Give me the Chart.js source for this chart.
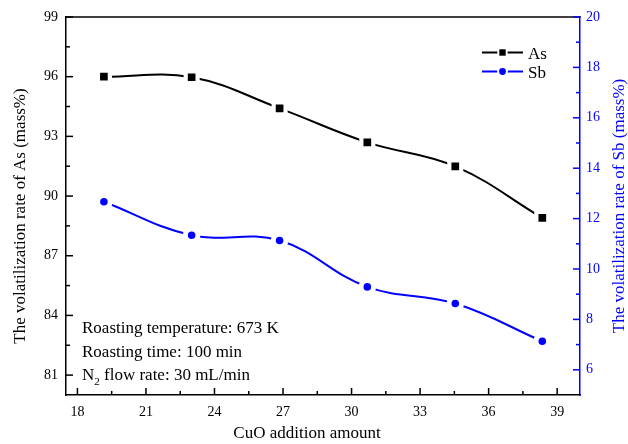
<!DOCTYPE html>
<html><head><meta charset="utf-8">
<script src="https://cdn.jsdelivr.net/npm/chart.js@4.4.0/dist/chart.umd.min.js"></script>
<style>html,body{margin:0;padding:0;background:#fff;}#wrap{width:628px;height:444px;}</style>
</head><body><div id="wrap"><canvas id="c" width="628" height="444"></canvas></div>
<script>
const cuoAmount = [19.16, 23.0, 26.85, 30.69, 34.54, 38.35];
const asRate = [96.0, 95.97, 94.41, 92.70, 91.49, 88.9];
const sbRate = [12.67, 11.34, 11.13, 9.29, 8.63, 7.13];
const xTicks = [18, 21, 24, 27, 30, 33, 36, 39];
const asTicks = [81, 84, 87, 90, 93, 96, 99];
const sbTicks = [6, 8, 10, 12, 14, 16, 18, 20];
const seriesNames = ['As', 'Sb'];
const xTitle = 'CuO addition amount';
const asTitle = 'The volatilization rate of As (mass%)';
const sbTitle = 'The volatilization rate of Sb (mass%)';
const noteLines = ['Roasting temperature: 673 K', 'Roasting time: 100 min'];
const noteN2 = ['N', '2', ' flow rate: 30 mL/min'];

const BLUE = '#0000ff';
const FONT = "'Liberation Serif', 'Times New Roman', serif";

function mids(arr) { const m = []; for (let i = 0; i < arr.length - 1; i++) m.push((arr[i] + arr[i + 1]) / 2); return m; }

function marker(ctx, style, x, y, half, ringW, color) {
  ctx.save();
  ctx.fillStyle = '#fff';
  ctx.beginPath();
  if (style === 'rect') ctx.rect(x - half - ringW, y - half - ringW, 2 * (half + ringW), 2 * (half + ringW));
  else ctx.arc(x, y, half + ringW, 0, Math.PI * 2);
  ctx.fill();
  ctx.fillStyle = color;
  ctx.beginPath();
  if (style === 'rect') ctx.rect(x - half, y - half, 2 * half, 2 * half);
  else ctx.arc(x, y, half, 0, Math.PI * 2);
  ctx.fill();
  ctx.restore();
}

const decor = {
  id: 'decor',
  afterDraw(chart) {
    const ctx = chart.ctx, a = chart.chartArea;
    const sx = chart.scales.x, sy = chart.scales.y, s2 = chart.scales.y2;
    ctx.save();
    ctx.lineWidth = 1.5;
    // top border
    ctx.strokeStyle = '#000';
    ctx.beginPath(); ctx.moveTo(a.left, a.top); ctx.lineTo(a.right + 0.75, a.top); ctx.stroke();
    // x ticks (inward)
    const tick = (x1, y1, x2, y2) => { ctx.beginPath(); ctx.moveTo(x1, y1); ctx.lineTo(x2, y2); ctx.stroke(); };
    xTicks.forEach(v => { const p = sx.getPixelForValue(v); tick(p, a.bottom, p, a.bottom - 7); });
    mids(xTicks).forEach(v => { const p = sx.getPixelForValue(v); tick(p, a.bottom, p, a.bottom - 4); });
    asTicks.forEach(v => { const p = sy.getPixelForValue(v); tick(a.left, p, a.left + 7, p); });
    mids(asTicks).forEach(v => { const p = sy.getPixelForValue(v); tick(a.left, p, a.left + 4, p); });
    ctx.strokeStyle = BLUE;
    sbTicks.forEach(v => { const p = s2.getPixelForValue(v); tick(a.right, p, a.right - 7, p); });
    mids(sbTicks).forEach(v => { const p = s2.getPixelForValue(v); tick(a.right, p, a.right - 4, p); });

    // axis titles
    ctx.font = '17px ' + FONT;
    ctx.textBaseline = 'middle';
    ctx.textAlign = 'center';
    ctx.fillStyle = '#000';
    ctx.fillText(xTitle, 307, 434);
    ctx.save(); ctx.translate(21, 216); ctx.rotate(-Math.PI / 2); ctx.fillText(asTitle, 0, 0); ctx.restore();
    ctx.fillStyle = BLUE;
    ctx.save(); ctx.translate(620, 206); ctx.rotate(-Math.PI / 2); ctx.fillText(sbTitle, 0, 0); ctx.restore();

    // annotation
    ctx.fillStyle = '#000';
    ctx.textAlign = 'left';
    ctx.textBaseline = 'alphabetic';
    ctx.fillText(noteLines[0], 82, 333);
    ctx.fillText(noteLines[1], 82, 356.5);
    let x = 82;
    ctx.fillText(noteN2[0], x, 380); x += ctx.measureText(noteN2[0]).width;
    ctx.font = '11px ' + FONT;
    ctx.fillText(noteN2[1], x, 385); x += ctx.measureText(noteN2[1]).width;
    ctx.font = '17px ' + FONT;
    ctx.fillText(noteN2[2], x, 380);

    // legend
    const items = [
      { name: seriesNames[0], color: '#000', style: 'rect', y: 52.5, half: 3.2 },
      { name: seriesNames[1], color: BLUE, style: 'circle', y: 71.5, half: 3.4 }
    ];
    items.forEach(it => {
      ctx.strokeStyle = it.color; ctx.lineWidth = 2;
      ctx.beginPath(); ctx.moveTo(482, it.y); ctx.lineTo(523, it.y); ctx.stroke();
      marker(ctx, it.style, 502.5, it.y, it.half, 2, it.color);
      ctx.fillStyle = '#000';
      ctx.font = '17px ' + FONT;
      ctx.fillText(it.name, 528, it.y + 6);
    });
    ctx.restore();
  }
};

const ticksFrom = arr => function (scale) { scale.ticks = arr.map(v => ({ value: v })); };

new Chart(document.getElementById('c'), {
  type: 'line',
  data: {
    datasets: [
      {
        label: seriesNames[0],
        data: cuoAmount.map((x, i) => ({ x, y: asRate[i] })),
        yAxisID: 'y',
        borderColor: '#000', backgroundColor: '#000', borderWidth: 2,
        tension: 0.4,
        pointStyle: 'rect', pointRadius: 8.4, pointBorderWidth: 4.2,
        pointBackgroundColor: '#000', pointBorderColor: '#fff'
      },
      {
        label: seriesNames[1],
        data: cuoAmount.map((x, i) => ({ x, y: sbRate[i] })),
        yAxisID: 'y2',
        borderColor: BLUE, backgroundColor: BLUE, borderWidth: 2,
        tension: 0.4,
        pointStyle: 'circle', pointRadius: 6.3, pointBorderWidth: 5,
        pointBackgroundColor: BLUE, pointBorderColor: '#fff'
      }
    ]
  },
  options: {
    responsive: false, animation: false, devicePixelRatio: 1, events: [],
    layout: { padding: { top: 17, left: 0, right: 0, bottom: 0 } },
    plugins: { legend: { display: false }, tooltip: { enabled: false } },
    scales: {
      x: {
        type: 'linear', position: 'bottom', min: 17.5, max: 40,
        afterBuildTicks: ticksFrom(xTicks),
        afterFit: s => { s.height = 49; },
        grid: { display: false, drawTicks: false },
        border: { display: true, color: '#000', width: 1.5 },
        ticks: { padding: 9, color: '#000', font: { family: FONT, size: 14 }, maxRotation: 0, autoSkip: false }
      },
      y: {
        type: 'linear', position: 'left', min: 80, max: 99,
        afterBuildTicks: ticksFrom(asTicks),
        afterFit: s => { s.width = 66; },
        grid: { display: false, drawTicks: false },
        border: { display: true, color: '#000', width: 1.5 },
        ticks: { padding: 8, color: '#000', font: { family: FONT, size: 14 }, autoSkip: false }
      },
      y2: {
        type: 'linear', position: 'right', min: 5, max: 20,
        afterBuildTicks: ticksFrom(sbTicks),
        afterFit: s => { s.width = 48; },
        grid: { display: false, drawTicks: false },
        border: { display: true, color: BLUE, width: 1.5 },
        ticks: { padding: 6, color: BLUE, font: { family: FONT, size: 14 }, autoSkip: false }
      }
    }
  },
  plugins: [decor]
});
</script>
</body></html>
